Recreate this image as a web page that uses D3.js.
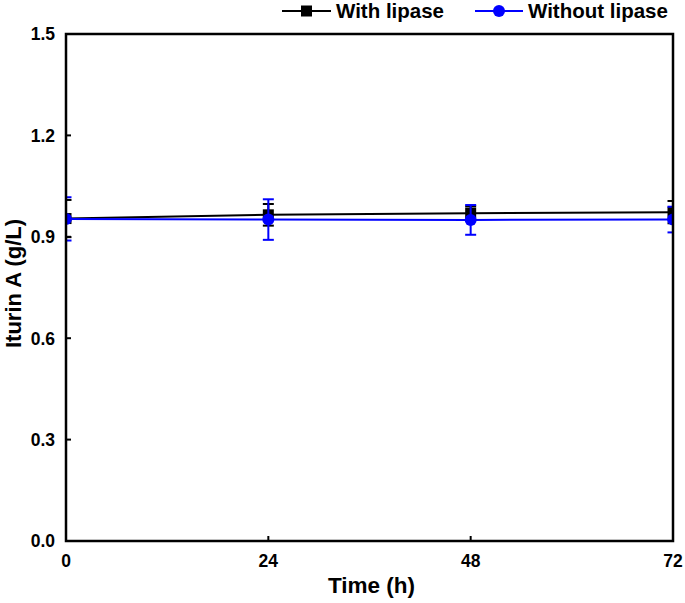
<!DOCTYPE html>
<html><head><meta charset="utf-8">
<script src="https://cdn.jsdelivr.net/npm/d3@7"></script>
<style>body{margin:0;background:#fff}svg{display:block}text{font-family:"Liberation Sans",Arial,sans-serif;font-weight:bold}</style>
</head><body><svg id="c" width="685" height="603"></svg>
<script>
const times = [0, 24, 48, 72];
const withLipase = [0.954, 0.965, 0.970, 0.973];
const withLipaseErr = [0.055, 0.032, 0.020, 0.033];
const withoutLipase = [0.953, 0.951, 0.950, 0.951];
const withoutLipaseErr = [0.064, 0.060, 0.044, 0.038];
const xTicks = [0, 24, 48, 72];
const yTicks = [0.0, 0.3, 0.6, 0.9, 1.2, 1.5];
const seriesNames = ["With lipase", "Without lipase"];
const seriesColors = ["#000000", "#0000ff"];

const svg = d3.select("#c");
const L = 66, R = 673, T = 34, B = 541;
const x = d3.scaleLinear().domain([0, 72]).range([L, R]);
const y = d3.scaleLinear().domain([0, 1.5]).range([B, T]);

svg.append("defs").append("clipPath").attr("id", "clip")
  .append("rect").attr("x", L).attr("y", T).attr("width", R - L).attr("height", B - T);

// ticks (inward)
svg.selectAll(".ytk").data(yTicks).enter().append("line")
  .attr("x1", L).attr("x2", L + 5).attr("y1", d => y(d)).attr("y2", d => y(d))
  .attr("stroke", "#000").attr("stroke-width", 2);
svg.selectAll(".xtk").data(xTicks).enter().append("line")
  .attr("x1", d => x(d)).attr("x2", d => x(d)).attr("y1", B).attr("y2", B - 5)
  .attr("stroke", "#000").attr("stroke-width", 2);

// tick labels
svg.selectAll(".yt").data(yTicks).enter().append("text")
  .attr("x", 55).attr("y", d => y(d)).attr("dy", "0.36em")
  .attr("text-anchor", "end").attr("font-size", 17.5).text(d => d.toFixed(1));
svg.selectAll(".xt").data(xTicks).enter().append("text")
  .attr("x", d => x(d)).attr("y", 567)
  .attr("text-anchor", "middle").attr("font-size", 17.5).text(d => d);

// axis titles
svg.append("text").attr("x", (L + R) / 2 + 2).attr("y", 593)
  .attr("text-anchor", "middle").attr("font-size", 22.5).text("Time (h)");
svg.append("text").attr("transform", `translate(21,${(T + B) / 2 - 4}) rotate(-90)`)
  .attr("text-anchor", "middle").attr("font-size", 22).text("Iturin A (g/L)");

const series = [
  {name: seriesNames[0], color: seriesColors[0], vals: withLipase, err: withLipaseErr, shape: "square"},
  {name: seriesNames[1], color: seriesColors[1], vals: withoutLipase, err: withoutLipaseErr, shape: "circle"}
];

const g = svg.append("g").attr("clip-path", "url(#clip)");
series.forEach(s => {
  const pts = times.map((t, i) => ({t, v: s.vals[i], e: s.err[i]}));
  g.append("path").datum(pts)
    .attr("d", d3.line().x(d => x(d.t)).y(d => y(d.v)))
    .attr("fill", "none").attr("stroke", s.color).attr("stroke-width", 2);
  const eb = g.append("g");
  pts.forEach(p => {
    const cx = x(p.t), y1 = y(p.v + p.e), y2 = y(p.v - p.e);
    eb.append("line").attr("x1", cx).attr("x2", cx).attr("y1", y1).attr("y2", y2)
      .attr("stroke", s.color).attr("stroke-width", 2);
    [y1, y2].forEach(yy => eb.append("line").attr("x1", cx - 5.5).attr("x2", cx + 5.5)
      .attr("y1", yy).attr("y2", yy).attr("stroke", s.color).attr("stroke-width", 2));
  });
  pts.forEach(p => {
    if (s.shape === "square") {
      g.append("rect").attr("x", x(p.t) - 5.5).attr("y", y(p.v) - 5.5)
        .attr("width", 11).attr("height", 11).attr("fill", s.color);
    } else {
      g.append("circle").attr("cx", x(p.t)).attr("cy", y(p.v)).attr("r", 6).attr("fill", s.color);
    }
  });
});

// frame
svg.append("rect").attr("x", L).attr("y", T).attr("width", R - L).attr("height", B - T)
  .attr("fill", "none").attr("stroke", "#000").attr("stroke-width", 2.5);

// legend
const leg = [
  {x0: 282, x1: 331, tx: 336},
  {x0: 475, x1: 523, tx: 528}
];
series.forEach((s, i) => {
  const l = leg[i], ly = 11;
  svg.append("line").attr("x1", l.x0).attr("x2", l.x1).attr("y1", ly).attr("y2", ly)
    .attr("stroke", s.color).attr("stroke-width", 2);
  const mx = (l.x0 + l.x1) / 2;
  if (s.shape === "square") svg.append("rect").attr("x", mx - 5.5).attr("y", ly - 5.5).attr("width", 11).attr("height", 11).attr("fill", s.color);
  else svg.append("circle").attr("cx", mx).attr("cy", ly).attr("r", 6).attr("fill", s.color);
  svg.append("text").attr("x", l.tx).attr("y", ly).attr("dy", "0.36em").attr("font-size", 20.5).text(s.name);
});
</script></body></html>
